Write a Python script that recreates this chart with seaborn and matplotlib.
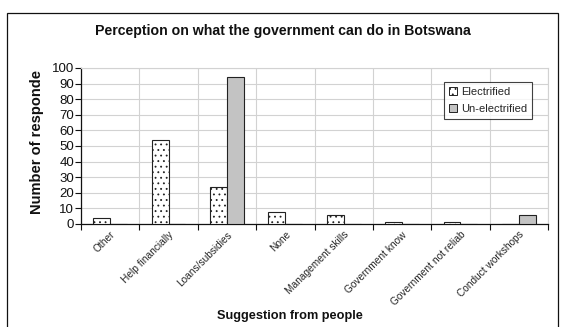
import matplotlib
matplotlib.use("Agg")
import matplotlib.pyplot as plt
from matplotlib.patches import Patch, Rectangle
import seaborn as sns
import pandas as pd

categories = ["Other", "Help financially", "Loans/subsidies", "None",
              "Management skills", "Government know", "Government not reliab",
              "Conduct workshops"]
electrified = [4, 54, 24, 8, 6, 1, 1, 0]
un_electrified = [0, 0, 94, 0, 0, 0, 0, 6]
series_names = ["Electrified", "Un-electrified"]
y_ticks = list(range(0, 101, 10))

df = pd.DataFrame({
    "Suggestion": categories * 2,
    "Count": electrified + un_electrified,
    "Group": [series_names[0]] * len(categories) + [series_names[1]] * len(categories),
})

sns.set_style("white")
plt.rcParams["font.family"] = ["Liberation Sans", "DejaVu Sans"]
plt.rcParams["hatch.color"] = "#9a9a9a"
plt.rcParams["hatch.linewidth"] = 0.6

fig = plt.figure(figsize=(5.66, 3.27), dpi=100)
ax = fig.add_axes([81 / 566, 1 - 224 / 327, 467 / 566, 156 / 327])

sns.barplot(data=df, x="Suggestion", y="Count", hue="Group", order=categories,
            hue_order=series_names, palette=["white", "#c3c3c3"], width=0.58,
            edgecolor="#222222", linewidth=0.8, legend=False, ax=ax, zorder=3)

# dotted fill for the electrified series
for bar in ax.containers[0]:
    bar.set_hatch("...")

ax.set_xlim(-0.5, len(categories) - 0.5)
ax.set_ylim(0, 100)
ax.set_yticks(y_ticks)
ax.tick_params(axis="y", labelsize=9.5, length=4, width=0.8, direction="out",
               pad=1, left=True, colors="#111111")

# category labels at the centres, tick marks on the boundaries
ax.set_xticks(range(len(categories)))
ax.set_xticklabels(categories, rotation=45, ha="right", rotation_mode="anchor",
                   fontsize=7.3)
ax.tick_params(axis="x", which="major", length=0, pad=4)
ax.set_xticks([i - 0.5 for i in range(len(categories) + 1)], minor=True)
ax.tick_params(axis="x", which="minor", length=4, width=0.8, direction="out",
               bottom=True, color="#111111")

ax.grid(True, which="major", axis="y", color="#d2d2d2", linewidth=0.8, zorder=0)
ax.grid(True, which="minor", axis="x", color="#d2d2d2", linewidth=0.8, zorder=0)
ax.set_axisbelow(True)

for side in ["top", "right"]:
    ax.spines[side].set_color("#d2d2d2")
    ax.spines[side].set_linewidth(0.8)
for side in ["left", "bottom"]:
    ax.spines[side].set_color("#111111")
    ax.spines[side].set_linewidth(0.9)

ax.set_xlabel("")
ax.set_ylabel("")

handles = [Patch(facecolor="white", edgecolor="#222222", hatch="...", linewidth=0.7),
           Patch(facecolor="#c3c3c3", edgecolor="#222222", linewidth=0.7)]
leg = ax.legend(handles, series_names, loc="upper right",
                bbox_to_anchor=(0.966, 0.91), borderaxespad=0, fontsize=8,
                frameon=True, fancybox=False, handlelength=0.7, handleheight=0.7,
                handletextpad=0.4, borderpad=0.45, labelspacing=0.65)
leg.get_frame().set_edgecolor("#111111")
leg.get_frame().set_linewidth(0.8)

fig.text(283 / 566, 1 - 31 / 327, "Perception on what the government can do in Botswana",
         ha="center", va="center", fontsize=10.2, fontweight="bold", color="#111111")
fig.text(290 / 566, 1 - 316 / 327, "Suggestion from people",
         ha="center", va="center", fontsize=9.2, fontweight="bold", color="#111111")
fig.text(37 / 566, 1 - 142 / 327, "Number of responde", rotation=90,
         ha="center", va="center", fontsize=10.5, fontweight="bold", color="#111111")

# outer chart frame, open at the bottom edge
fig.patches.append(Rectangle((7 / 566, -0.1), (558 - 7) / 566, 1.1 - 13 / 327,
                             transform=fig.transFigure, fill=False,
                             edgecolor="#111111", linewidth=0.9))

fig.savefig("out.png", dpi=100)
